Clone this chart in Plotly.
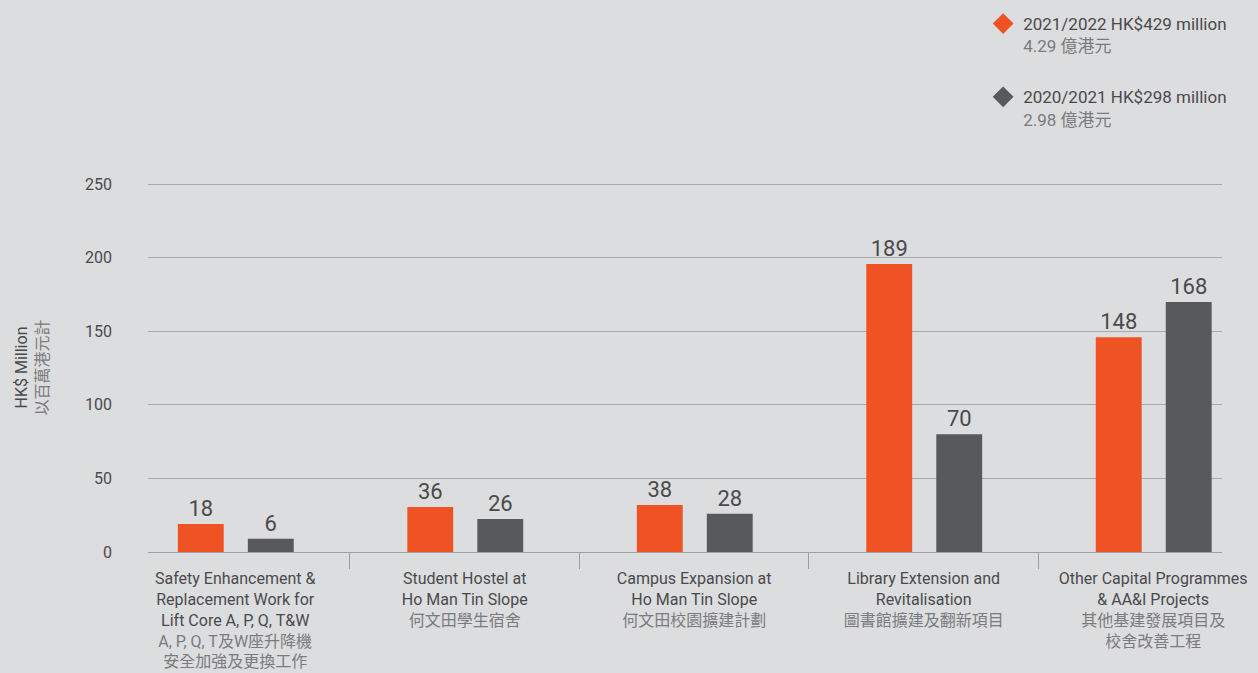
import plotly.graph_objects as go

# ---- data ----
categories_en = [
    ["Safety Enhancement &", "Replacement Work for", "Lift Core A, P, Q, T&W"],
    ["Student Hostel at", "Ho Man Tin Slope"],
    ["Campus Expansion at", "Ho Man Tin Slope"],
    ["Library Extension and", "Revitalisation"],
    ["Other Capital Programmes", "& AA&I Projects"],
]
categories_zh = [
    ["A, P, Q, T及W座升降機", "安全加強及更換工作"],
    ["何文田學生宿舍"],
    ["何文田校園擴建計劃"],
    ["圖書館擴建及翻新項目"],
    ["其他基建發展項目及", "校舍改善工程"],
]
# bar heights as drawn in the reference, and the value labels printed on them
values_2122 = [19, 30.6, 32, 195.7, 146]
labels_2122 = ["18", "36", "38", "189", "148"]
values_2021 = [9, 22.4, 26, 80, 170]
labels_2021 = ["6", "26", "28", "70", "168"]

series_names = [
    ("2021/2022 HK$429 million", "4.29 億港元"),
    ("2020/2021 HK$298 million", "2.98 億港元"),
]
y_ticks = [0, 50, 100, 150, 200, 250]

ORANGE = "#f05323"
DARK = "#58595b"
BG = "#dcdddf"
TXT = "#4a4a4c"
ZH = "#7a7b7d"
GRID = "#a8a9ab"

idx = list(range(len(categories_en)))


def tick_text(en, zh):
    lines = [e for e in en] + [f"<span style='color:{ZH}'>{z}</span>" for z in zh]
    return "<br>".join(lines)


ticktext = [tick_text(e, z) for e, z in zip(categories_en, categories_zh)]

fig = go.Figure()
fig.add_trace(go.Bar(
    x=idx, y=values_2122, width=0.2, offset=-0.25,
    marker=dict(color=ORANGE, line=dict(width=0)),
    text=labels_2122, textposition="outside",
    textfont=dict(size=22, color=TXT, family="Roboto"),
    cliponaxis=False, showlegend=False,
))
fig.add_trace(go.Bar(
    x=idx, y=values_2021, width=0.2, offset=0.055,
    marker=dict(color=DARK, line=dict(width=0)),
    text=labels_2021, textposition="outside",
    textfont=dict(size=22, color=TXT, family="Roboto"),
    cliponaxis=False, showlegend=False,
))

# legend entries (diamond markers)
for (en, zh), col in zip(series_names, [ORANGE, DARK]):
    fig.add_trace(go.Scatter(
        x=[None], y=[None], mode="markers",
        marker=dict(symbol="diamond", size=16, color=col),
        name=f"{en}<br><span style='color:{ZH}'>{zh}</span>",
        legendgroup=en, showlegend=True,
    ))

fig.update_layout(
    width=1258, height=673,
    paper_bgcolor=BG, plot_bgcolor=BG,
    margin=dict(l=148, r=36, t=183, b=121, autoexpand=False),
    font=dict(family="Roboto, 'Noto Sans CJK TC'", size=15, color=TXT),
    barmode="overlay",
    legend=dict(
        xref="container", yref="container",
        x=0.7815, y=0.991, xanchor="left", yanchor="top",
        bgcolor="rgba(0,0,0,0)", font=dict(size=17, color=TXT),
        tracegroupgap=26, valign="top", itemsizing="trace",
    ),
    xaxis=dict(
        range=[-0.38, 4.3], automargin=False,
        tickmode="array", tickvals=idx, ticktext=ticktext,
        ticks="", showgrid=False, zeroline=False,
        showline=True, linecolor="#9d9ea0", linewidth=1,
        tickfont=dict(size=16, color=TXT),
        ticklabelstandoff=12,
        minor=dict(tickmode="array", tickvals=[i + 0.5 for i in idx[:-1]],
                   ticks="outside", ticklen=16, tickcolor="#9d9ea0", tickwidth=1,
                   showgrid=False),
    ),
    yaxis=dict(
        range=[0, 250.8], tickmode="array", tickvals=y_ticks, automargin=False,
        showgrid=True, gridcolor=GRID, gridwidth=1,
        zeroline=False, showline=False, ticks="",
        ticklabelstandoff=35,
        tickfont=dict(size=16, color=TXT),
        title=dict(text=f"HK$ Million<br><span style='color:{ZH}'>以百萬港元計</span>",
                   font=dict(size=16, color=TXT), standoff=32),
    ),
)

fig.write_html(
    "out.html",
    config={"displayModeBar": False},
    post_script="document.body.style.margin='0';document.body.style.background='%s';" % BG,
)
